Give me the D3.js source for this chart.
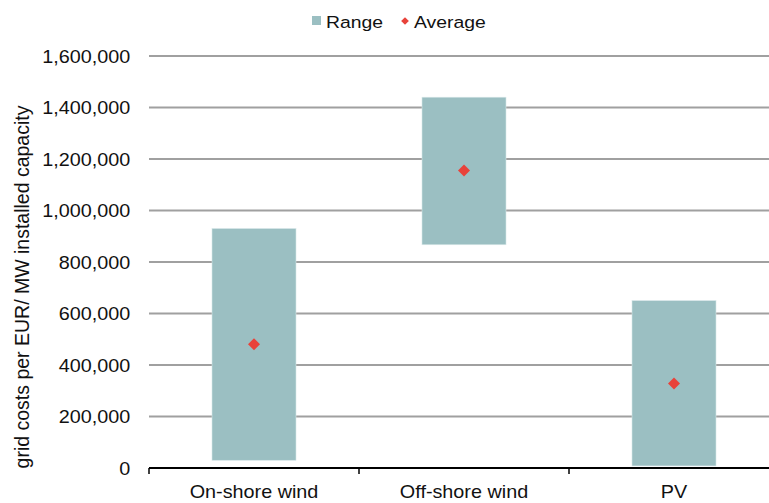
<!DOCTYPE html>
<html>
<head>
<meta charset="utf-8">
<script src="https://cdn.jsdelivr.net/npm/d3@7"></script>
<style>
  html, body { margin: 0; padding: 0; background: #fff; }
  svg { display: block; font-family: "Liberation Sans", Arial, sans-serif; }
</style>
</head>
<body>
<svg id="chart" width="769" height="503"></svg>
<script>
const categories = ["On-shore wind", "Off-shore wind", "PV"];
const rangeMin = [30000, 867000, 8000];
const rangeMax = [930000, 1440000, 650000];
const average = [481000, 1155000, 328000];
const yTicks = [0, 200000, 400000, 600000, 800000, 1000000, 1200000, 1400000, 1600000];
const legendLabels = ["Range", "Average"];

(function () {
const svg = d3.select("#chart");
const W = 769;
const pLeft = 149, pRight = 779, pTop = 56, pBottom = 468;
const barColor = "#9bbfc2", avgColor = "#e8423a", gridColor = "#a0a0a0";

const x = d3.scaleBand().domain(categories).range([pLeft, pRight]).paddingInner(0.6).paddingOuter(0.3);
const y = d3.scaleLinear().domain([0, 1600000]).range([pBottom, pTop]);

// gridlines
svg.append("g").selectAll("line").data(yTicks.filter(d => d > 0)).join("line")
  .attr("x1", pLeft).attr("x2", W)
  .attr("y1", d => y(d)).attr("y2", d => y(d))
  .attr("stroke", gridColor).attr("stroke-width", 2);

// y axis labels
const yAxis = svg.append("g").attr("transform", `translate(${pLeft},0)`)
  .call(d3.axisLeft(y).tickValues(yTicks).tickSize(0).tickPadding(17).tickFormat(d3.format(",")));
yAxis.select(".domain").remove();
yAxis.selectAll("text")
  .attr("font-size", 18).attr("fill", "#111")
  .attr("font-family", "Liberation Sans, Arial, sans-serif")
  .attr("transform", "scale(1.1,1)")
  .attr("dy", "0.35em");

// bars (ranges)
const data = categories.map((c, i) => ({ c, lo: rangeMin[i], hi: rangeMax[i], avg: average[i] }));
svg.append("g").selectAll("rect").data(data).join("rect")
  .attr("x", d => x(d.c))
  .attr("width", x.bandwidth())
  .attr("y", d => y(d.hi))
  .attr("height", d => y(d.lo) - y(d.hi))
  .attr("fill", barColor)
  .attr("stroke", "#d8e7e8").attr("stroke-width", 0.6);

// x axis
const gap = x.step() - x.bandwidth();
const boundaries = categories.map(c => x(c) - gap / 2)
  .concat([x(categories[categories.length - 1]) + x.bandwidth() + gap / 2]);
svg.append("line").attr("x1", pLeft).attr("x2", W).attr("y1", pBottom).attr("y2", pBottom)
  .attr("stroke", "#000").attr("stroke-width", 2);
svg.append("g").selectAll("line").data(boundaries).join("line")
  .attr("x1", d => d).attr("x2", d => d).attr("y1", pBottom).attr("y2", pBottom + 6)
  .attr("stroke", "#000").attr("stroke-width", 1.5);
svg.append("g").selectAll("text").data(categories).join("text")
  .attr("transform", d => `translate(${x(d) + x.bandwidth() / 2},498) scale(1.1,1)`)
  .attr("text-anchor", "middle")
  .attr("font-size", 18).attr("fill", "#111")
  .text(d => d);

// averages (diamonds)
svg.append("g").selectAll("path").data(data).join("path")
  .attr("d", d3.symbol().type(d3.symbolSquare).size(72)())
  .attr("transform", d => `translate(${x(d.c) + x.bandwidth() / 2},${y(d.avg)}) rotate(45)`)
  .attr("fill", avgColor);

// y title
svg.append("text")
  .attr("transform", "translate(29,287) rotate(-90) scale(1,1.06)")
  .attr("text-anchor", "middle")
  .attr("font-size", 19.5).attr("fill", "#111")
  .text("grid costs per EUR/ MW installed capacity");

// legend
const lg = svg.append("g");
lg.append("rect").attr("x", 312).attr("y", 16).attr("width", 9).attr("height", 9).attr("fill", barColor);
lg.append("text").attr("transform", "translate(326,27.5) scale(1.14,1)")
  .attr("font-size", 17).attr("fill", "#111").text(legendLabels[0]);
lg.append("path").attr("d", d3.symbol().type(d3.symbolSquare).size(30)())
  .attr("transform", "translate(405,21) rotate(45)").attr("fill", avgColor);
lg.append("text").attr("transform", "translate(414,27.5) scale(1.14,1)")
  .attr("font-size", 17).attr("fill", "#111").text(legendLabels[1]);
})();
</script>
</body>
</html>
